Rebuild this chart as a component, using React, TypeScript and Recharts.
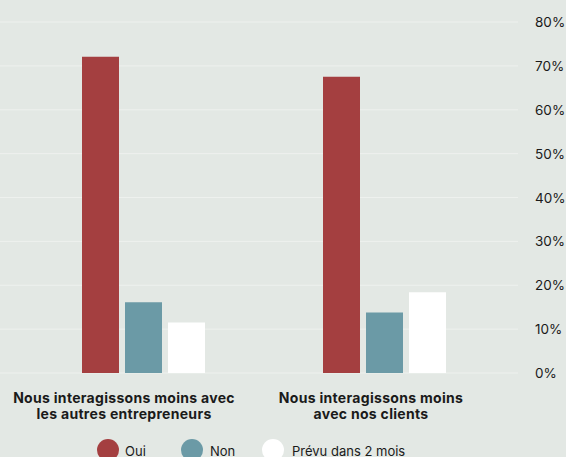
import React from "react";
import { BarChart, Bar, XAxis, YAxis, CartesianGrid, Legend } from "recharts";

const categories = ["cat1", "cat2"];
const categoryLines = [
  ["Nous interagissons moins avec", "les autres entrepreneurs"],
  ["Nous interagissons moins", "avec nos clients"],
];
const ouiValues = [72.1, 67.5];
const nonValues = [16.1, 13.8];
const prevuValues = [11.5, 18.4];
const yTicks = [0, 10, 20, 30, 40, 50, 60, 70, 80];
const seriesNames = ["Oui", "Non", "Prévu dans 2 mois"];
const seriesColors = ["#a43f40", "#6b9aa6", "#ffffff"];

const data = categories.map((c, i) => ({
  cat: c,
  oui: ouiValues[i],
  non: nonValues[i],
  prevu: prevuValues[i],
}));

const FONT = "Inter, sans-serif";
const LABEL_SHIFT = [-19.5, -13.5];

const XTick = (props: any) => {
  const { x, y, payload } = props;
  const idx = categories.indexOf(payload.value);
  const lines = categoryLines[idx] || [];
  return (
    <g transform={`translate(${x + (LABEL_SHIFT[idx] || 0)},${y})`}>
      {lines.map((l, i) => (
        <text
          key={i}
          x={0}
          y={22 + i * 15.5}
          textAnchor="middle"
          fontFamily={FONT}
          fontWeight={700}
          fontSize={14}
          letterSpacing={0.3}
          fill="#1a1a1a"
        >
          {l}
        </text>
      ))}
    </g>
  );
};

const YTick = (props: any) => {
  const { y, payload } = props;
  return (
    <text x={535} y={y + 5} textAnchor="start" fontFamily={FONT} fontSize={13.5} fill="#1a1a1a">
      {payload.value}%
    </text>
  );
};

const LegendContent = () => {
  const circleX = [97, 181, 261.5];
  const textX = [125, 210, 292];
  return (
    <div style={{ position: "relative", width: 566, height: 28 }}>
      {seriesNames.map((n, i) => (
        <React.Fragment key={n}>
          <div
            style={{
              position: "absolute",
              left: circleX[i],
              top: 10,
              width: 22,
              height: 22,
              borderRadius: 11,
              background: seriesColors[i],
            }}
          />
          <div
            style={{
              position: "absolute",
              left: textX[i],
              top: 14.5,
              fontFamily: FONT,
              fontSize: 13,
              color: "#1a1a1a",
              lineHeight: "15px",
              whiteSpace: "nowrap",
            }}
          >
            {n}
          </div>
        </React.Fragment>
      ))}
    </div>
  );
};

export default function App() {
  return (
    <div
      style={{
        position: "absolute",
        left: 0,
        top: 0,
        width: 566,
        height: 457,
        background: "#e3e8e4",
        overflow: "hidden",
      }}
    >
      <BarChart
        width={566}
        height={457}
        data={data}
        margin={{ top: 22, right: 0, left: 0, bottom: 0 }}
        barSize={37}
        barGap={6}
      >
        <CartesianGrid vertical={false} stroke="#eef1ee" strokeWidth={1} />
        <XAxis
          dataKey="cat"
          axisLine={false}
          tickLine={false}
          height={56}
          padding={{ left: 23, right: 13 }}
          tick={<XTick />}
          interval={0}
        />
        <YAxis
          orientation="right"
          width={48}
          domain={[0, 80]}
          ticks={yTicks}
          axisLine={false}
          tickLine={false}
          tick={<YTick />}
          interval={0}
        />
        <Legend verticalAlign="bottom" content={<LegendContent />} wrapperStyle={{ left: 0, height: 28 }} />
        <Bar dataKey="oui" fill={seriesColors[0]} isAnimationActive={false} />
        <Bar dataKey="non" fill={seriesColors[1]} isAnimationActive={false} />
        <Bar dataKey="prevu" fill={seriesColors[2]} isAnimationActive={false} />
      </BarChart>
    </div>
  );
}
